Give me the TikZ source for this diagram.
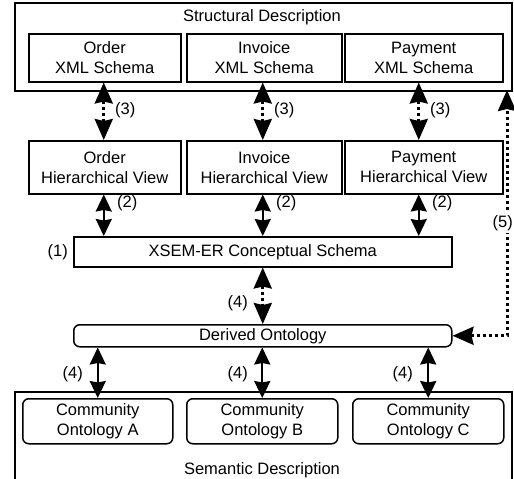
\documentclass[tikz,border=0pt]{standalone}
\usepackage{fontspec}
\setmainfont{Liberation Sans}
\usetikzlibrary{arrows.meta}
\begin{document}
\begin{tikzpicture}[x=1pt,y=-1pt,
  fnt/.style={font=\fontsize{16.5}{20}\selectfont},
  txt/.style={fnt, inner sep=0pt, align=center},
  box/.style={fnt, draw, line width=1.5pt, rectangle, inner sep=0pt, align=center, anchor=north west},
  rbox/.style={box, rounded corners=6pt},
  solidarrow/.style={line width=2pt, {Stealth[length=17pt,width=16pt,inset=1.5pt]}-{Stealth[length=17pt,width=16pt,inset=1.5pt]}},
  dotarrow/.style={line width=3pt, dash pattern=on 3pt off 3pt, {Stealth[length=21pt,width=18pt,inset=2pt]}-{Stealth[length=21pt,width=18pt,inset=2pt]}},
  lbl/.style={fnt, inner sep=0pt}
]
\useasboundingbox (0,0) rectangle (514,479);
% outer boxes
\node[box, minimum width=497pt, minimum height=88pt] (sd) at (14,2) {};
\node[txt] (sdl) at (262,17) {Structural Description};
\node[box, minimum width=497pt, minimum height=120pt] (smd) at (14,391) {};
\node[txt] (smdl) at (262,470) {Semantic Description};
% schema boxes
\node[box, minimum width=152pt, minimum height=48pt] (os) at (28,33) {Order\\XML Schema};
\node[box, minimum width=155pt, minimum height=48pt] (is) at (186,33) {Invoice\\XML Schema};
\node[box, minimum width=158pt, minimum height=48pt] (ps) at (344,33) {Payment\\XML Schema};
% hierarchical views
\node[box, minimum width=152pt, minimum height=53pt] (oh) at (28,140) {Order\\Hierarchical View};
\node[box, minimum width=155pt, minimum height=53pt] (ih) at (186,140) {Invoice\\Hierarchical View};
\node[box, minimum width=158pt, minimum height=53pt] (ph) at (344,140) {Payment\\Hierarchical View};
% conceptual schema
\node[box, minimum width=378pt, minimum height=30pt] (xs) at (73,236) {XSEM-ER Conceptual Schema};
% derived ontology
\node[rbox, minimum width=378pt, minimum height=22pt] (do) at (73,324) {Derived Ontology};
% community ontologies
\node[rbox, minimum width=150pt, minimum height=45pt] (ca) at (22,398) {Community\\Ontology A};
\node[rbox, minimum width=151pt, minimum height=45pt] (cb) at (186,398) {Community\\Ontology B};
\node[rbox, minimum width=151pt, minimum height=45pt] (cc) at (352,398) {Community\\Ontology C};
% arrows (3)
\draw[dotarrow] ([xshift=-1pt]os.south) -- ([xshift=-1pt]oh.north);
\draw[dotarrow] ([xshift=-1.5pt]is.south) -- ([xshift=-1.5pt]ih.north);
\draw[dotarrow] ([xshift=-5pt]ps.south) -- ([xshift=-5pt]ph.north);
\node[lbl, anchor=west] (l3a) at (115,110) {(3)};
\node[lbl, anchor=west] (l3b) at (274,110) {(3)};
\node[lbl, anchor=west] (l3c) at (430,110) {(3)};
% arrows (2)
\draw[solidarrow] ([xshift=-1pt]oh.south) -- ([xshift=-1pt]oh.south |- xs.north);
\draw[solidarrow] ([xshift=-1.5pt]ih.south) -- ([xshift=-1.5pt]ih.south |- xs.north);
\draw[solidarrow] ([xshift=-5pt]ph.south) -- ([xshift=-5pt]ph.south |- xs.north);
\node[lbl, anchor=west] (l2a) at (117,203) {(2)};
\node[lbl, anchor=west] (l2b) at (276,203) {(2)};
\node[lbl, anchor=west] (l2c) at (432,203) {(2)};
% (1)
\node[lbl, anchor=east] (l1) at (68,252) {(1)};
% arrow (4) upper
\draw[dotarrow] (xs.south) -- (do.north);
\node[lbl, anchor=east] (l4a) at (248,303) {(4)};
% arrows (4) lower
\draw[solidarrow] (ca.north |- do.south) -- (ca.north);
\draw[solidarrow] (cb.north |- do.south) -- (cb.north);
\draw[solidarrow] (cc.north |- do.south) -- (cc.north);
\node[lbl, anchor=east] (l4b) at (83,374) {(4)};
\node[lbl, anchor=east] (l4c) at (248,374) {(4)};
\node[lbl, anchor=east] (l4d) at (413,374) {(4)};
% arrow (5)
\coordinate (c5) at (507,90);
\draw[dotarrow] (do.east) -- (c5 |- do.east) -- (c5);
\node[lbl, anchor=east, fill=white, inner ysep=2pt, inner xsep=0.5pt] (l5) at (513.5,223) {(5)};
\end{tikzpicture}
\end{document}
